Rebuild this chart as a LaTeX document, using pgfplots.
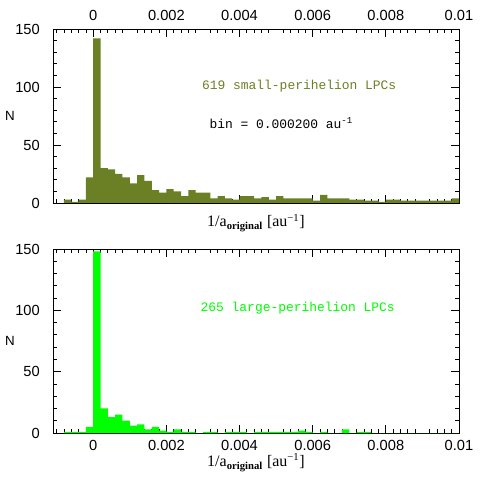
\documentclass[border=0pt]{standalone}
\usepackage{fontspec}
\setmainfont{Liberation Serif}
\newfontfamily\monofont{Liberation Mono}
\newfontfamily\sansfont{Liberation Sans}
\usepackage{pgfplots}
\pgfplotsset{compat=1.18}
\definecolor{olivebar}{RGB}{107,127,36}
\definecolor{limebar}{RGB}{0,255,0}

\pgfplotsset{histo/.style={
  scale only axis, width=304.5pt,
  xmin=-0.0011, xmax=0.01, ymin=0, ymax=150,
  axis line style={line width=0.6pt}, tick style={black, line width=0.6pt},
  major tick length=6pt, minor tick length=3pt, tick align=inside,
  scaled x ticks=false,
  xtick={0,0.002,0.004,0.006,0.008,0.01},
  xticklabels={0,0.002,0.004,0.006,0.008,0.01},
  minor xtick={-0.001,-0.0008,-0.0006,-0.0004,-0.0002,
    0.0002,0.0004,0.0006,0.0008,0.0012,0.0014,0.0016,0.0018,
    0.0022,0.0024,0.0026,0.0028,0.0032,0.0034,0.0036,0.0038,
    0.0042,0.0044,0.0046,0.0048,0.0052,0.0054,0.0056,0.0058,
    0.0062,0.0064,0.0066,0.0068,0.0072,0.0074,0.0076,0.0078,
    0.0082,0.0084,0.0086,0.0088,0.0092,0.0094,0.0096,0.0098},
  ytick={0,50,100,150}, yticklabels={0,50,100,150},
  minor ytick={10,20,30,40,60,70,80,90,110,120,130,140},
  ticklabel style={font=\sansfont\fontsize{11}{13}\selectfont},
  yticklabel style={anchor=east, inner sep=0pt, xshift=-9.75pt},
  ylabel={N},
  ylabel style={font=\sansfont\fontsize{10}{12}\selectfont,
    at={(axis description cs:-0.106,0.5)}, anchor=center, rotate=-90},
  xlabel={1/a\textsubscript{\textbf{original}} [au\textsuperscript{−1}]},
  xlabel style={font=\fontsize{12}{14}\selectfont,
    at={(axis description cs:0.5,0)}, anchor=base},
}}

\begin{document}
\begin{tikzpicture}
\path[use as bounding box] (0,0) rectangle (363.75pt,363.75pt);

% small-perihelion sample
\begin{axis}[histo, height=130.5pt, at={(39.75pt,211.5pt)}, anchor=south west,
  xticklabel pos=upper, xtick pos=both, ytick pos=both, yticklabel pos=left,
  xticklabel style={anchor=south, inner sep=0pt, yshift=6.2pt},
  xlabel style={yshift=-18pt}]
\addplot[const plot, fill=olivebar, draw=none] coordinates {
(-0.0008,3)(-0.0006,1)(-0.0004,3)(-0.0002,22)(0,142)
(0.0002,30)(0.0004,29)(0.0006,25)(0.0008,22)(0.0010,17)
(0.0012,24)(0.0014,19)(0.0016,11)(0.0018,9)(0.0020,12)
(0.0022,10)(0.0024,6)(0.0026,11)(0.0028,9)(0.0030,9)
(0.0032,4)(0.0034,6)(0.0036,4)(0.0038,3)(0.0040,6)
(0.0042,6)(0.0044,4)(0.0046,5)(0.0048,3)(0.0050,6)
(0.0052,4)(0.0054,4)(0.0056,4)(0.0058,4)(0.0060,2)
(0.0062,7)(0.0064,4)(0.0066,4)(0.0068,4)(0.0070,3)
(0.0072,3)(0.0074,2)(0.0076,2)(0.0078,1)(0.0080,3)
(0.0082,3)(0.0084,2)(0.0086,2)(0.0088,2)(0.0090,2)
(0.0092,2)(0.0094,2)(0.0096,2)(0.0098,4)(0.0100,4)} \closedcycle;
\node[font=\monofont\fontsize{9.7}{11}\selectfont, text=olivebar]
  at (axis cs:0.00563,101) {619 small-perihelion LPCs};
\node[font=\monofont\fontsize{9.7}{11}\selectfont]
  at (axis cs:0.00514,69) {bin = 0.000200 au\textsuperscript{-1}};
\end{axis}

% large-perihelion sample
\begin{axis}[histo, height=138pt, at={(39.75pt,39pt)}, anchor=south west,
  xtick pos=both, ytick pos=both, yticklabel pos=left,
  xticklabel style={anchor=north, inner sep=0pt, yshift=-5.25pt},
  xlabel style={yshift=-25.3pt}]
\addplot[const plot, fill=limebar, draw=none] coordinates {
(-0.0008,1)(-0.0006,1)(-0.0004,1)(-0.0002,5)(0,148)
(0.0002,20)(0.0004,13)(0.0006,15)(0.0008,10)(0.0010,6)
(0.0012,7)(0.0014,3)(0.0016,5)(0.0018,2)(0.0020,1)
(0.0022,3)(0.0024,1)(0.0026,1)(0.0028,0)(0.0030,1)
(0.0032,1)(0.0034,0)(0.0036,1)(0.0038,1)(0.0040,1)
(0.0042,0)(0.0044,1)(0.0046,1)(0.0048,1)(0.0050,1)
(0.0052,1)(0.0054,1)(0.0056,2)(0.0058,1)(0.0060,0)
(0.0062,1)(0.0064,0)(0.0066,0)(0.0068,3)(0.0070,0)
(0.0072,1)(0.0074,1)(0.0076,0)(0.0078,0)(0.0080,0)
(0.0082,0)(0.0084,0)(0.0086,0)(0.0088,0)(0.0090,0)
(0.0092,0)(0.0094,0)(0.0096,0)(0.0098,0)(0.0100,0)} \closedcycle;
\node[font=\monofont\fontsize{9.7}{11}\selectfont, text=limebar]
  at (axis cs:0.00559,102) {265 large-perihelion LPCs};
\end{axis}
\end{tikzpicture}
\end{document}
